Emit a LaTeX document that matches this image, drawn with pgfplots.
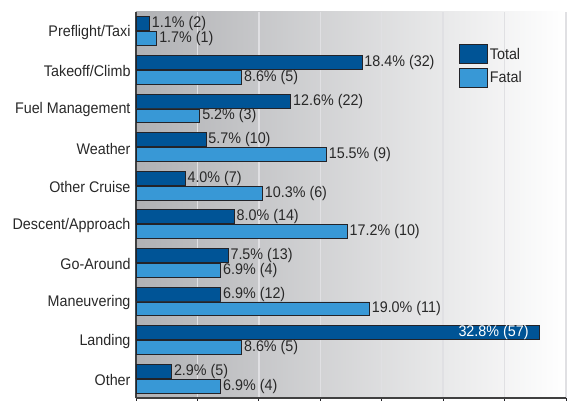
\documentclass[border=0pt]{standalone}
\usepackage{pgfplots}
\pgfplotsset{compat=1.18}
\usepackage{fontspec}
\setmainfont{Liberation Sans}[FakeStretch=0.93]
\definecolor{totc}{RGB}{0,84,150}
\definecolor{fatc}{RGB}{56,152,214}
\definecolor{txt}{RGB}{40,40,40}
\definecolor{edge}{RGB}{35,35,40}
\newcommand\lab{\fontsize{15.4bp}{18bp}\selectfont}
\begin{document}
\begin{tikzpicture}
\begin{axis}[
  at={(0,0)}, anchor=south west,
  scale only axis, width=430bp, height=386bp,
  xmin=0, xmax=35, ymin=-0.5, ymax=9.5,
  xbar, bar width=0.36,
  xtick={0,5,...,35}, xticklabels={},
  xmajorgrids,
  grid style={line width=1.3bp, draw={rgb,255:red,224;green,224;blue,227}},
  ytick={0,...,9},
  yticklabels={Other,Landing,Maneuvering,Go-Around,Descent/Approach,Other Cruise,Weather,Fuel Management,Takeoff/Climb,Preflight/Taxi},
  yticklabel style={font=\lab, text=txt, xshift=-2bp, yshift=-1.5bp},
  ytick align=inside, xtick align=outside,
  major tick length=10bp,
  tick style={draw=edge, line width=0.8bp},
  axis lines*=left,
  axis line style={draw=black!75, line width=1.6bp},
  axis background/.style={left color={rgb,255:red,176;green,177;blue,180}, right color=white},
  point meta=explicit symbolic,
  nodes near coords,
  every node near coord/.append style={font=\lab, text=txt, anchor=west, inner sep=2bp},
  legend style={draw=none, fill=none, at={(0.744,0.922)}, anchor=north west, font=\lab, text=txt, row sep=4bp,
    /tikz/every even column/.append style={column sep=2bp}},
  legend image code/.code={\draw[#1, draw=edge, line width=0.8bp] (0bp,-9.5bp) rectangle (28bp,9.5bp);},
  legend cell align=left,
]
\addplot[fill=totc, draw=edge, line width=0.8bp, bar shift=0.193] coordinates {
  (1.1,9) [1.1\% (2)]
  (18.4,8) [18.4\% (32)]
  (12.6,7) [12.6\% (22)]
  (5.7,6) [5.7\% (10)]
  (4.0,5) [4.0\% (7)]
  (8.0,4) [8.0\% (14)]
  (7.5,3) [7.5\% (13)]
  (6.9,2) [6.9\% (12)]
  (2.9,0) [2.9\% (5)]
};
\addlegendentry{Total}
\addplot[fill=fatc, draw=edge, line width=0.8bp, bar shift=-0.193] coordinates {
  (1.7,9) [1.7\% (1)]
  (8.6,8) [8.6\% (5)]
  (5.2,7) [5.2\% (3)]
  (15.5,6) [15.5\% (9)]
  (10.3,5) [10.3\% (6)]
  (17.2,4) [17.2\% (10)]
  (6.9,3) [6.9\% (4)]
  (19.0,2) [19.0\% (11)]
  (8.6,1) [8.6\% (5)]
  (6.9,0) [6.9\% (4)]
};
\addlegendentry{Fatal}
\addplot[fill=totc, draw=edge, line width=0.8bp, bar shift=0.193, forget plot,
  every node near coord/.append style={anchor=east, text=white, xshift=-8bp}] coordinates {
  (32.8,1) [32.8\% (57)]
};
\end{axis}
\pgfresetboundingbox
\path (-136bp,-3bp) rectangle (440bp,398bp);
\end{tikzpicture}
\end{document}
